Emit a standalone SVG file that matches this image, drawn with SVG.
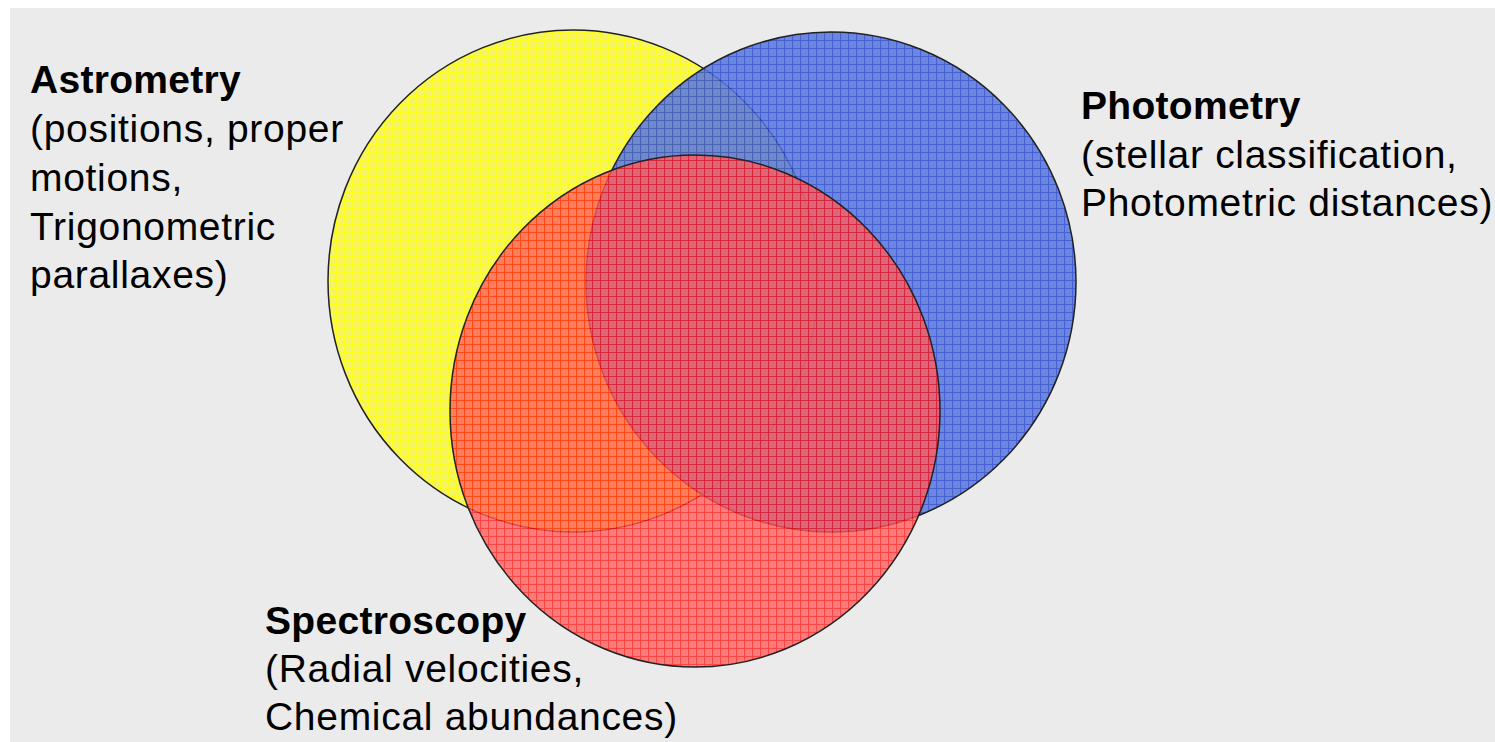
<svg xmlns="http://www.w3.org/2000/svg" width="1495" height="742" viewBox="0 0 1495 742">
<defs>
<style>
.t{font-family:"Liberation Sans",Arial,sans-serif;font-size:39px;fill:#000;letter-spacing:0.7px}
.b{font-weight:bold;letter-spacing:0.3px}
.c{stroke:#222;stroke-width:1.5}
</style>
<pattern id="py" width="8" height="8" patternUnits="userSpaceOnUse">
<rect width="8" height="8" fill="#f4f466"/>
<path d="M0 0.5H8M0.5 0V8" stroke="#ffff20" stroke-width="1.2"/>
</pattern>
<pattern id="pb" width="8" height="8" patternUnits="userSpaceOnUse">
<rect width="8" height="8" fill="#5676de"/>
<path d="M0 0.5H8M0.5 0V8" stroke="#2a48d0" stroke-width="1.2"/>
</pattern>
<pattern id="pr" width="8" height="8" patternUnits="userSpaceOnUse">
<rect width="8" height="8" fill="#ff5c5c"/>
<path d="M0 0.5H8M0.5 0V8" stroke="#ff1818" stroke-width="1.2"/>
</pattern>
</defs>
<rect width="1495" height="742" fill="#fff"/>
<rect x="10" y="8" width="1485" height="734" fill="#ebebeb"/>
<g id="astrometry-circle"><ellipse cx="573" cy="281" rx="245" ry="251" fill="url(#py)" class="c"/></g>
<g id="photometry-circle"><ellipse cx="831" cy="282" rx="245" ry="250" fill="url(#pb)" fill-opacity="0.85" class="c"/></g>
<g id="spectroscopy-circle"><ellipse cx="695" cy="411" rx="245" ry="256" fill="url(#pr)" fill-opacity="0.78" class="c"/></g>
<g id="connectors"></g>
<g id="astrometry-label">
<text class="t b" x="30" y="93">Astrometry</text>
<text class="t" x="30" y="142">(positions, proper</text>
<text class="t" x="30" y="191">motions,</text>
<text class="t" x="30" y="240">Trigonometric</text>
<text class="t" x="30" y="288">parallaxes)</text>
</g>
<g id="photometry-label">
<text class="t b" x="1081" y="119">Photometry</text>
<text class="t" x="1081" y="168">(stellar classification,</text>
<text class="t" x="1081" y="216">Photometric distances)</text>
</g>
<g id="spectroscopy-label">
<text class="t b" x="265" y="634">Spectroscopy</text>
<text class="t" x="265" y="682">(Radial velocities,</text>
<text class="t" x="265" y="730">Chemical abundances)</text>
</g>
</svg>
